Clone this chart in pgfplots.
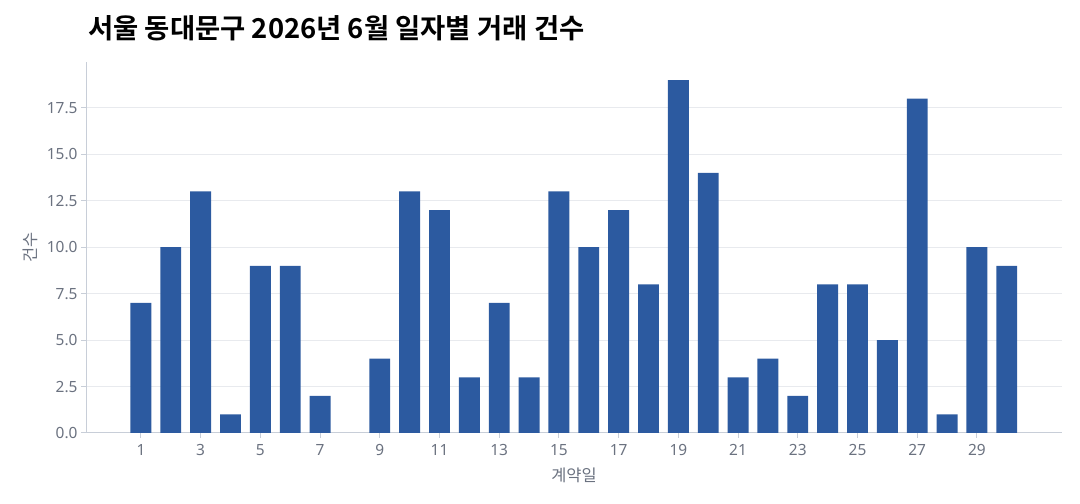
\documentclass[border=0pt]{standalone}
\usepackage{pgfplots}
\pgfplotsset{compat=1.18}
\usepackage{fontspec}
\setmainfont{Noto Sans CJK KR}
\newfontfamily\titlefont{Noto Sans CJK KR}[BoldFont={* Bold}]
\newfontfamily\tickfont{Noto Sans}
\definecolor{barc}{HTML}{2C5AA0}
\definecolor{gridc}{HTML}{E8EAEE}
\definecolor{axc}{HTML}{C8CED8}
\definecolor{tickc}{HTML}{6B7280}
\begin{document}
\begin{tikzpicture}[x=1bp,y=1bp]
\useasboundingbox (0,0) rectangle (1080,504);
\begin{axis}[
  at={(86bp,71bp)}, anchor=south west,
  scale only axis, width=976bp, height=371bp,
  xmin=-0.84, xmax=31.85, ymin=0, ymax=19.97,
  axis x line*=bottom, axis y line*=left,
  axis line style={axc, line width=1bp},
  xtick={1,3,...,29},
  ytick={0,2.5,...,17.5},
  yticklabel style={/pgf/number format/fixed,/pgf/number format/fixed zerofill,/pgf/number format/precision=1},
  xticklabel style={yshift=-3bp},
  /pgf/number format/assume math mode=true,
  tick label style={font=\tickfont\fontsize{15.5}{17}\selectfont, text=tickc},
  tick style={axc, line width=1bp},
  major tick length=5bp,
  tick align=outside,
  ymajorgrids, grid style={gridc, line width=1bp},
  xlabel={계약일}, ylabel={건수},
  label style={font=\fontsize{16.5}{18}\selectfont, text=tickc},
  xlabel style={yshift=-5bp},
  ylabel style={yshift=2bp},
  clip=false,
]
\addplot[ybar, bar width=0.7, fill=barc, draw=none] coordinates {
(1,7) (2,10) (3,13) (4,1) (5,9) (6,9) (7,2) (9,4) (10,13) (11,12)
(12,3) (13,7) (14,3) (15,13) (16,10) (17,12) (18,8) (19,19) (20,14) (21,3)
(22,4) (23,2) (24,8) (25,8) (26,5) (27,18) (28,1) (29,10) (30,9)
};
\end{axis}
\node[anchor=base west, inner sep=0pt, font=\titlefont\bfseries\fontsize{27.5}{30}\selectfont] at (88bp,465bp) {서울 동대문구 2026년 6월 일자별 거래 건수};
\end{tikzpicture}
\end{document}
